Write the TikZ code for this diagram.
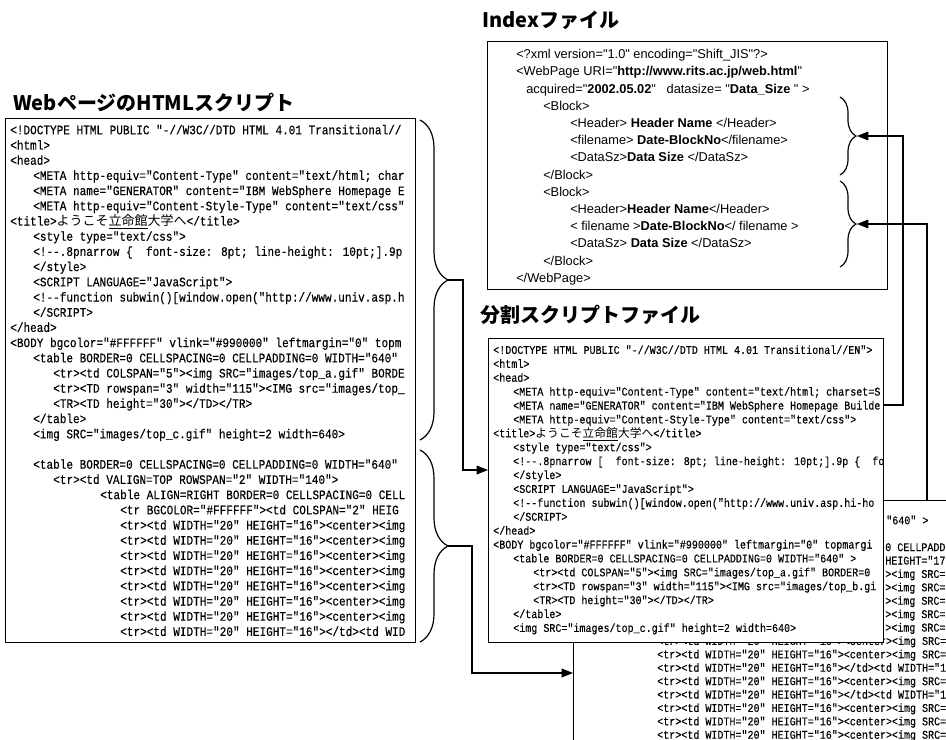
\documentclass[tikz,border=0pt]{standalone}
\usepackage{fontspec}
\usetikzlibrary{arrows.meta,decorations.pathreplacing}
\newfontfamily\codefont{Liberation Mono}[FakeStretch=0.85,FakeBold=0.3]
\newfontfamily\codejp{Noto Sans CJK JP}
\newfontfamily\idxfont{Liberation Sans}
\newfontfamily\titlefont{Noto Sans CJK JP}
\tikzset{
  boxline/.style={draw,line width=1.1pt,fill=white,inner sep=0pt,anchor=north west},
  webl/.style={anchor=base west,inner sep=0pt,font=\codefont\fontsize{9.75pt}{11pt}\selectfont},
  spl/.style={anchor=base west,inner sep=0pt,font=\codefont\fontsize{8.85pt}{10pt}\selectfont},
  idxl/.style={anchor=base west,inner sep=0pt,font=\idxfont\fontsize{9.6pt}{11pt}\selectfont},
  ttl/.style={anchor=base west,inner sep=0pt,font=\titlefont\bfseries\fontsize{15pt}{18pt}\selectfont},
  link/.style={line width=0.9pt},
  arr/.style={-{Triangle[length=8.5pt,width=6.5pt]}},
  brc/.style={decorate,decoration={brace,amplitude=#1},line width=0.9pt}
}
\begin{document}
\begin{tikzpicture}[x=0.75pt,y=-0.75pt]
  \useasboundingbox (0,0) rectangle (946,739);
  \clip (0,0) rectangle (946,739);
  % titles
  \node[ttl] (tWeb) at (13,110) {WebページのHTMLスクリプト};
  \node[ttl] (tIdx) at (482,27) {Indexファイル};
  \node[ttl] (tSplit) at (480,322) {分割スクリプトファイル};
  % web page script
  \node[boxline,minimum width=307.5pt,minimum height=393pt] (webbox) at (5,118) {};
  \node[webl] (w1) at (10,134.3) {<!DOCTYPE HTML PUBLIC "-//W3C//DTD HTML 4.01 Transitional//};
  \node[webl] (w2) at (10,149.5) {<html>};
  \node[webl] (w3) at (10,164.7) {<head>};
  \node[webl] (w4) at (33,179.9) {<META http-equiv="Content-Type" content="text/html; char};
  \node[webl] (w5) at (33,195.1) {<META name="GENERATOR" content="IBM WebSphere Homepage E};
  \node[webl] (w6) at (33,210.3) {<META http-equiv="Content-Style-Type" content="text/css"};
  \node[webl] (w7) at (10,225.5) {<title>{\codejp ようこそ\underline{立命館}大学へ}</title>};
  \node[webl] (w8) at (33,240.7) {<style type="text/css">};
  \node[webl] (w9) at (33,255.9) {<!-{}-.8pnarrow \{~ font-size: 8pt; line-height: 10pt;].9p};
  \node[webl] (w10) at (33,271.1) {</style>};
  \node[webl] (w11) at (33,286.3) {<SCRIPT LANGUAGE="JavaScript">};
  \node[webl] (w12) at (33,301.5) {<!-{}-function subwin()[window.open("http://www.univ.asp.h};
  \node[webl] (w13) at (33,316.7) {</SCRIPT>};
  \node[webl] (w14) at (10,331.9) {</head>};
  \node[webl] (w15) at (10,347.1) {<BODY bgcolor="\#FFFFFF" vlink="\#990000" leftmargin="0" topm};
  \node[webl] (w16) at (33,362.3) {<table BORDER=0 CELLSPACING=0 CELLPADDING=0 WIDTH="640"};
  \node[webl] (w17) at (53,377.5) {<tr><td COLSPAN="5"><img SRC="images/top\_a.gif" BORDE};
  \node[webl] (w18) at (53,392.7) {<tr><TD rowspan="3" width="115"><IMG src="images/top\_};
  \node[webl] (w19) at (53,407.9) {<TR><TD height="30"></TD></TR>};
  \node[webl] (w20) at (33,423.1) {</table>};
  \node[webl] (w21) at (33,438.3) {<img SRC="images/top\_c.gif" height=2 width=640>};
  \node[webl] (w23) at (33,468.7) {<table BORDER=0 CELLSPACING=0 CELLPADDING=0 WIDTH="640"};
  \node[webl] (w24) at (53,483.9) {<tr><td VALIGN=TOP ROWSPAN="2" WIDTH="140">};
  \node[webl] (w25) at (100,499.1) {<table ALIGN=RIGHT BORDER=0 CELLSPACING=0 CELL};
  \node[webl] (w26) at (120,514.3) {<tr BGCOLOR="\#FFFFFF"><td COLSPAN="2" HEIG};
  \foreach \y [count=\k] in {529.5,544.7,559.9,575.1,590.3,605.5,620.7}
    \node[webl] (wr\k) at (120,\y) {<tr><td WIDTH="20" HEIGHT="16"><center><img};
  \node[webl] (w34) at (120,635.9) {<tr><td WIDTH="20" HEIGHT="16"></td><td WID};
  % braces on the web page script
  \draw[brc=21pt] (420,120) -- (420,440);
  \draw[brc=21pt] (420,450) -- (420,642);
  \coordinate (upTip) at (448,280);
  \coordinate (lowTip) at (448,546);
  % index file
  \node[boxline,minimum width=300pt,minimum height=186pt] (idxbox) at (487,41) {};
  \node[idxl] (i1) at (516,58.6) {<?xml version="1.0" encoding="Shift\_JIS"?>};
  \node[idxl] (i2) at (516,75.8) {<WebPage URI="\textbf{http://www.rits.ac.jp/web.html}"};
  \node[idxl] (i3) at (526,93) {acquired="\textbf{2002.05.02}"\ \ \ datasize= "\textbf{Data\_Size} " >};
  \node[idxl] (i4) at (543,110.2) {<Block>};
  \node[idxl] (i5) at (570,127.4) {<Header> \textbf{Header Name} </Header>};
  \node[idxl] (i6) at (570,144.6) {<filename> \textbf{Date-BlockNo}</filename>};
  \node[idxl] (i7) at (570,161.8) {<DataSz>\textbf{Data Size} </DataSz>};
  \node[idxl] (i8) at (543,179) {</Block>};
  \node[idxl] (i9) at (543,196.2) {<Block>};
  \node[idxl] (i10) at (570,213.4) {<Header>\textbf{Header Name}</Header>};
  \node[idxl] (i11) at (570,230.6) {< filename >\textbf{Date-BlockNo}</ filename >};
  \node[idxl] (i12) at (570,247.8) {<DataSz> \textbf{Data Size} </DataSz>};
  \node[idxl] (i13) at (543,265) {</Block>};
  \node[idxl] (i14) at (516,282.2) {</WebPage>};
  \draw[brc=12pt] (840,97) -- (840,175);
  \draw[brc=12pt] (840,181) -- (840,267);
  \coordinate (idxTipA) at (857,136);
  \coordinate (idxTipB) at (857,224);
  % second split file (behind)
  \node[boxline,minimum width=300pt,minimum height=195pt] (file2) at (573,500) {};
  \node[spl] (t1) at (886,524.3) {"640" >};
  \node[spl] (t2) at (885,551.1) {0 CELLPADD};
  \node[spl] (t3) at (885,564.5) {HEIGHT="17};
  \foreach \y [count=\k] in {577.9,591.3,604.7,618.1,631.5}
    \node[spl] (ti\k) at (885,\y) {><img SRC=};
  \node[spl] (u0) at (657,644.9) {<tr><td WIDTH="20" HEIGHT="16"><center><img SRC=};
  \node[spl] (u1) at (657,658.3) {<tr><td WIDTH="20" HEIGHT="16"><center><img SRC=};
  \node[spl] (u2) at (657,671.7) {<tr><td WIDTH="20" HEIGHT="16"></td><td WIDTH="1};
  \node[spl] (u3) at (657,685.1) {<tr><td WIDTH="20" HEIGHT="16"><center><img SRC=};
  \node[spl] (u4) at (657,698.5) {<tr><td WIDTH="20" HEIGHT="16"></td><td WIDTH="1};
  \foreach \y [count=\k from 5] in {711.9,725.3,738.7}
    \node[spl] (u\k) at (657,\y) {<tr><td WIDTH="20" HEIGHT="16"><center><img SRC=};
  % first split file
  \node[boxline,minimum width=296.25pt,minimum height=228pt] (splitbox) at (488,338) {};
  \node[spl] (s1) at (493,353.9) {<!DOCTYPE HTML PUBLIC "-//W3C//DTD HTML 4.01 Transitional//EN">};
  \node[spl] (s2) at (493,367.8) {<html>};
  \node[spl] (s3) at (493,381.7) {<head>};
  \node[spl] (s4) at (513,395.6) {<META http-equiv="Content-Type" content="text/html; charset=S};
  \node[spl] (s5) at (513,409.5) {<META name="GENERATOR" content="IBM WebSphere Homepage Builde};
  \node[spl] (s6) at (513,423.4) {<META http-equiv="Content-Style-Type" content="text/css">};
  \node[spl] (s7) at (493,437.3) {<title>{\codejp ようこそ\underline{立命館}大学へ}</title>};
  \node[spl] (s8) at (513,451.2) {<style type="text/css">};
  \node[spl] (s9) at (513,465.1) {<!-{}-.8pnarrow [~ font-size: 8pt; line-height: 10pt;].9p \{~ fo};
  \node[spl] (s10) at (513,479) {</style>};
  \node[spl] (s11) at (513,492.9) {<SCRIPT LANGUAGE="JavaScript">};
  \node[spl] (s12) at (513,506.8) {<!-{}-function subwin()[window.open("http://www.univ.asp.hi-ho};
  \node[spl] (s13) at (513,520.7) {</SCRIPT>};
  \node[spl] (s14) at (493,534.6) {</head>};
  \node[spl] (s15) at (493,548.5) {<BODY bgcolor="\#FFFFFF" vlink="\#990000" leftmargin="0" topmargi};
  \node[spl] (s16) at (513,562.4) {<table BORDER=0 CELLSPACING=0 CELLPADDING=0 WIDTH="640" >};
  \node[spl] (s17) at (533,576.3) {<tr><td COLSPAN="5"><img SRC="images/top\_a.gif" BORDER=0};
  \node[spl] (s18) at (533,590.2) {<tr><TD rowspan="3" width="115"><IMG src="images/top\_b.gi};
  \node[spl] (s19) at (533,604.1) {<TR><TD height="30"></TD></TR>};
  \node[spl] (s20) at (513,618) {</table>};
  \node[spl] (s21) at (513,631.9) {<img SRC="images/top\_c.gif" height=2 width=640>};
  % connectors
  \coordinate (upBend) at (463,470);
  \coordinate (lowBend) at (472,673);
  \coordinate (railA) at (903,405);
  \coordinate (railB) at (927,500);
  \draw[link,arr] (upTip) -| (upBend) -- (splitbox.west |- upBend);
  \draw[link,arr] (lowTip) -| (lowBend) -- (file2.west |- lowBend);
  \draw[link,arr] (splitbox.east |- railA) -- (railA) |- (idxTipA);
  \draw[link,arr] (file2.north -| railB) |- (idxTipB);
\end{tikzpicture}
\end{document}
